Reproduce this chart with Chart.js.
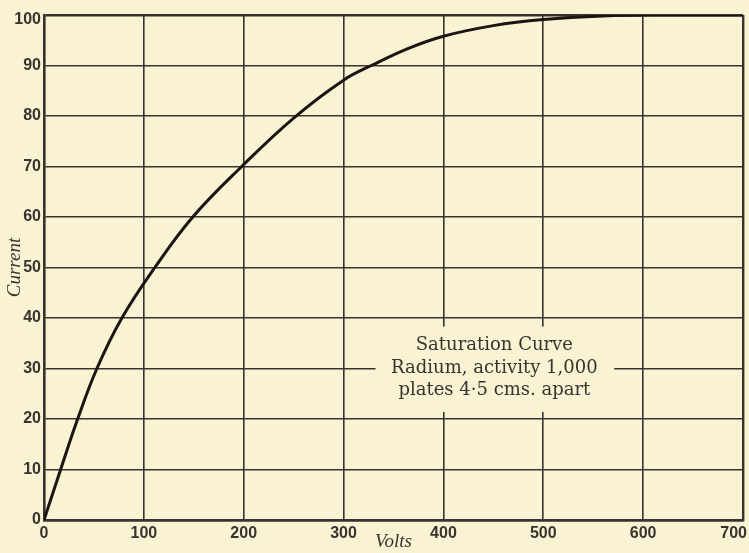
<!DOCTYPE html>
<html>
<head>
<meta charset="utf-8">
<script src="https://cdn.jsdelivr.net/npm/chart.js@4"></script>
<style>
  html, body { margin: 0; padding: 0; background: #f9f2d3; }
  canvas { display: block; }
</style>
</head>
<body>
<canvas id="c" width="749" height="553"></canvas>
<script>
// Data (Volts vs Current)
const volts   = [0, 17, 33, 53, 78, 111, 149, 198, 250, 300, 330, 365, 400, 450, 500, 560, 620, 700];
const current = [0, 10.2, 19.6, 30, 40, 50, 60, 70, 79.6, 87.1, 90.2, 93.4, 95.8, 97.9, 99.1, 99.8, 100, 100];
const xTicks = [0, 100, 200, 300, 400, 500, 600, 700];
const yTicks = [0, 10, 20, 30, 40, 50, 60, 70, 80, 90, 100];
const noteLines = ["Saturation Curve", "Radium, activity 1,000", "plates 4·5 cms. apart"];

const BG = '#f9f2d3';
const INK = '#3a322f';

const points = volts.map((v, i) => ({ x: v, y: current[i] }));

const notePlugin = {
  id: 'note',
  beforeDraw(chart) {
    const ctx = chart.ctx;
    ctx.save();
    ctx.fillStyle = BG;
    ctx.fillRect(0, 0, chart.width, chart.height);
    ctx.restore();
    // adjust edge tick labels like the printed figure
    const xs = chart.scales.x;
    const xi = xs.getLabelItems();
    const last = xi[xi.length - 1];
    if (last) { last.options.textAlign = 'right'; last.options.translation[0] = chart.width - 2; }
    const ys = chart.scales.y;
    const yi = ys.getLabelItems();
    const top = yi[yi.length - 1];
    if (top && !top._moved) { top.options.translation[1] += 5; top._moved = true; }
  },
  afterDatasetsDraw(chart) {
    const ctx = chart.ctx;
    const xs = chart.scales.x, ys = chart.scales.y;
    const x0 = xs.getPixelForValue(332), x1 = xs.getPixelForValue(571);
    const y0 = ys.getPixelForValue(38.3), y1 = ys.getPixelForValue(21.4);
    ctx.save();
    ctx.fillStyle = BG;
    ctx.fillRect(x0, y0, x1 - x0, y1 - y0);
    ctx.fillStyle = INK;
    ctx.font = '18px "DejaVu Serif", "Liberation Serif", serif';
    ctx.textAlign = 'center';
    ctx.textBaseline = 'middle';
    const cx = xs.getPixelForValue(451);
    const ly = [34.5, 30.0, 25.7];
    noteLines.forEach((t, i) => ctx.fillText(t, cx, ys.getPixelForValue(ly[i])));
    ctx.restore();
  }
};

new Chart(document.getElementById('c'), {
  type: 'scatter',
  data: {
    datasets: [{
      data: points,
      showLine: true,
      borderColor: '#1c1412',
      borderWidth: 3,
      pointRadius: 0,
      tension: 0.4,
      fill: false
    }]
  },
  options: {
    responsive: false,
    animation: false,
    devicePixelRatio: 1,
    layout: { padding: { top: 15, right: 6, left: 0, bottom: 0 } },
    plugins: { legend: { display: false }, tooltip: { enabled: false } },
    scales: {
      x: {
        type: 'linear', min: 0, max: 700,
        afterBuildTicks: s => { s.ticks = xTicks.map(v => ({ value: v })); },
        afterFit: s => { s.height = 33; s.paddingLeft = 0; s.paddingRight = 0; },
        grid: {
          color: INK,
          lineWidth: c => (c.tick && (c.tick.value === 0 || c.tick.value === 700)) ? 2.4 : 1.6,
          drawTicks: false
        },
        border: { display: true, color: INK, width: 2.4 },
        ticks: {
          color: INK, padding: 4,
          font: { family: '"Liberation Sans", Arial, sans-serif', size: 16, weight: 'bold' },
          maxRotation: 0, autoSkip: false
        },
        title: {
          display: true, text: 'Volts', color: INK,
          font: { family: '"Liberation Serif", serif', size: 19, style: 'italic' },
          padding: { top: -5, bottom: 0 }
        }
      },
      y: {
        type: 'linear', min: 0, max: 100,
        afterBuildTicks: s => { s.ticks = yTicks.map(v => ({ value: v })); },
        afterFit: s => { s.width = 44; s.paddingTop = 0; s.paddingBottom = 0; },
        grid: {
          color: INK,
          lineWidth: c => (c.tick && (c.tick.value === 0 || c.tick.value === 100)) ? 2.4 : 1.6,
          drawTicks: false
        },
        border: { display: true, color: INK, width: 2.4 },
        ticks: {
          color: INK, padding: 3,
          font: { family: '"Liberation Sans", Arial, sans-serif', size: 16, weight: 'bold' },
          autoSkip: false
        },
        title: {
          display: true, text: 'Current', color: INK,
          font: { family: '"Liberation Serif", serif', size: 19, style: 'italic' },
          padding: { top: 4, bottom: 0 }
        }
      }
    }
  },
  plugins: [notePlugin]
});
</script>
</body>
</html>
